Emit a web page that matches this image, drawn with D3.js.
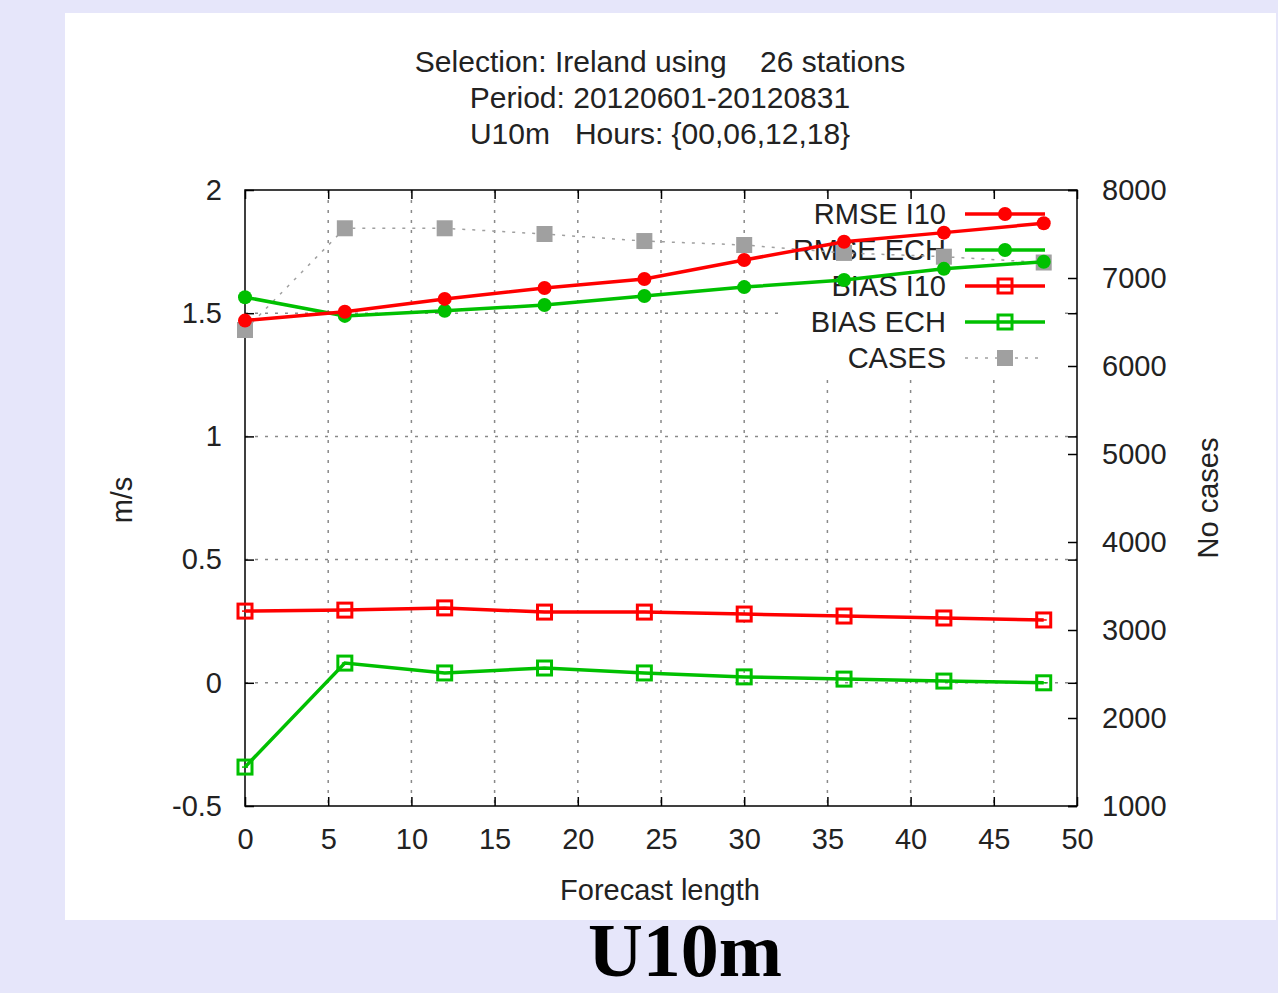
<!DOCTYPE html>
<html>
<head>
<meta charset="utf-8">
<script src="https://cdn.jsdelivr.net/npm/d3@7"></script>
<style>
  html, body { margin: 0; padding: 0; background: #e6e6fa; }
  svg text { font-family: "Liberation Sans", Arial, sans-serif; fill: #222; }
</style>
</head>
<body>
<div id="chart"></div>
<script>
// -------- Data --------
const leadTimes  = [0, 6, 12, 18, 24, 30, 36, 42, 48];
const rmseI10    = [1.47, 1.506, 1.558, 1.602, 1.639, 1.716, 1.79, 1.827, 1.865];
const rmseECH    = [1.565, 1.489, 1.51, 1.533, 1.57, 1.606, 1.635, 1.68, 1.709];
const biasI10    = [0.291, 0.295, 0.304, 0.287, 0.287, 0.279, 0.271, 0.263, 0.255];
const biasECH    = [-0.342, 0.08, 0.04, 0.06, 0.04, 0.024, 0.015, 0.007, 0.0];
const cases      = [6409, 7565, 7565, 7500, 7420, 7375, 7285, 7242, 7176];
const xTicks     = [0, 5, 10, 15, 20, 25, 30, 35, 40, 45, 50];
const yTicks     = [-0.5, 0, 0.5, 1, 1.5, 2];
const yTickLabels = ['-0.5', '0', '0.5', '1', '1.5', '2'];
const y2Ticks    = [1000, 2000, 3000, 4000, 5000, 6000, 7000, 8000];
const titleLines = ['Selection: Ireland using    26 stations', 'Period: 20120601-20120831', 'U10m   Hours: {00,06,12,18}'];

// -------- Dimensions --------
const W = 1278, H = 993;
const plot = { left: 245, right: 1077, top: 190, bottom: 806 };

const svg = d3.select('#chart').append('svg')
  .attr('width', W).attr('height', H)
  .style('display', 'block');

// panel
svg.append('rect').attr('x', 65).attr('y', 13).attr('width', 1211).attr('height', 907).attr('fill', '#fff');

// -------- Scales --------
const x  = d3.scaleLinear().domain([0, 50]).range([plot.left, plot.right]);
const y  = d3.scaleLinear().domain([-0.5, 2]).range([plot.bottom, plot.top]);
const y2 = d3.scaleLinear().domain([1000, 8000]).range([plot.bottom, plot.top]);

const fs = 29;

// -------- Title --------
svg.append('g').selectAll('text')
  .data(titleLines)
  .join('text')
    .attr('x', 660)
    .attr('y', (d, i) => 72 + i * 36)
    .attr('text-anchor', 'middle')
    .attr('font-size', 30)
    .style('white-space', 'pre')
    .attr('xml:space', 'preserve')
    .text(d => d);

// -------- Grid --------
const grid = svg.append('g')
  .attr('stroke', '#8a8a8a').attr('stroke-width', 1.5).attr('stroke-dasharray', '3,7').attr('fill', 'none');
grid.selectAll('line.gx')
  .data(xTicks.filter(t => t > 0 && t < 50))
  .join('line').attr('class', 'gx')
    .attr('x1', d => x(d)).attr('x2', d => x(d))
    .attr('y1', plot.top).attr('y2', plot.bottom);
grid.selectAll('line.gy')
  .data(yTicks.filter(t => t > -0.5 && t < 2))
  .join('line').attr('class', 'gy')
    .attr('x1', plot.left).attr('x2', plot.right)
    .attr('y1', d => y(d)).attr('y2', d => y(d));

// -------- Legend background --------
svg.append('rect').attr('x', 784).attr('y', 196).attr('width', 276).attr('height', 178).attr('fill', '#fff');

// -------- Axes --------
const tl = 9;
const axisG = svg.append('g');
axisG.append('rect')
  .attr('x', plot.left).attr('y', plot.top)
  .attr('width', plot.right - plot.left).attr('height', plot.bottom - plot.top)
  .attr('fill', 'none').attr('stroke', '#000').attr('stroke-width', 1.5);

const xAxis = d3.axisBottom(x).tickValues(xTicks).tickSize(-tl).tickPadding(tl + 13);
axisG.append('g').attr('transform', `translate(0,${plot.bottom})`).call(xAxis);
const xTop = d3.axisTop(x).tickValues(xTicks).tickSize(-tl).tickFormat('');
axisG.append('g').attr('transform', `translate(0,${plot.top})`).call(xTop);

const yAxis = d3.axisLeft(y).tickValues(yTicks).tickSize(-tl).tickPadding(tl + 14)
  .tickFormat((d, i) => yTickLabels[i]);
axisG.append('g').attr('transform', `translate(${plot.left},0)`).call(yAxis);
const yMirror = d3.axisRight(y).tickValues(yTicks).tickSize(-tl).tickFormat('');
axisG.append('g').attr('transform', `translate(${plot.right},0)`).call(yMirror);

const y2Axis = d3.axisRight(y2).tickValues(y2Ticks).tickSize(-tl).tickPadding(tl + 16).tickFormat(d3.format('d'));
axisG.append('g').attr('transform', `translate(${plot.right},0)`).call(y2Axis);

axisG.selectAll('.domain').remove();
axisG.selectAll('.tick line').attr('stroke', '#000').attr('stroke-width', 1.5);
axisG.selectAll('.tick text').attr('font-size', fs).attr('font-family', '"Liberation Sans", Arial, sans-serif').attr('fill', '#222');

// axis titles
svg.append('text').attr('x', 660).attr('y', 900).attr('text-anchor', 'middle').attr('font-size', fs).text('Forecast length');
svg.append('text').attr('transform', 'translate(132,500) rotate(-90)').attr('text-anchor', 'middle').attr('font-size', fs).text('m/s');
svg.append('text').attr('transform', 'translate(1218,498) rotate(-90)').attr('text-anchor', 'middle').attr('font-size', fs).text('No cases');

// -------- Series --------
const series = [
  { name: 'RMSE I10', values: rmseI10, color: '#ff0000', marker: 'dot',    scale: y },
  { name: 'RMSE ECH', values: rmseECH, color: '#00c000', marker: 'dot',    scale: y },
  { name: 'BIAS I10', values: biasI10, color: '#ff0000', marker: 'square', scale: y },
  { name: 'BIAS ECH', values: biasECH, color: '#00c000', marker: 'square', scale: y },
  { name: 'CASES',    values: cases,   color: '#a0a0a0', marker: 'fill',   scale: y2 }
];

function drawMarker(g, kind, color, cx, cy) {
  if (kind === 'dot') {
    g.append('circle').attr('cx', cx).attr('cy', cy).attr('r', 7).attr('fill', color);
  } else if (kind === 'square') {
    g.append('rect').attr('x', cx - 7).attr('y', cy - 7).attr('width', 14).attr('height', 14)
      .attr('fill', 'none').attr('stroke', color).attr('stroke-width', 3);
    g.append('line').attr('x1', cx - 3).attr('x2', cx + 3).attr('y1', cy).attr('y2', cy)
      .attr('stroke', color).attr('stroke-width', 1.5);
  } else {
    g.append('rect').attr('x', cx - 8).attr('y', cy - 8).attr('width', 16).attr('height', 16).attr('fill', color);
  }
}

// legend
const legend = svg.append('g');
series.forEach((s, i) => {
  const ly = 214 + i * 36;
  legend.append('text').attr('x', 946).attr('y', ly + 10).attr('text-anchor', 'end').attr('font-size', fs).text(s.name);
  legend.append('line').attr('x1', 965).attr('x2', 1045).attr('y1', ly).attr('y2', ly)
    .attr('stroke', s.color)
    .attr('stroke-width', s.marker === 'fill' ? 1.5 : 3.5)
    .attr('stroke-dasharray', s.marker === 'fill' ? '3,7' : null);
  drawMarker(legend, s.marker, s.color, 1005, ly);
});

// data lines (drawn last, over the legend as in the reference)
const dataG = svg.append('g');
[...series].reverse().forEach(s => {
  const line = d3.line().x((d, i) => x(leadTimes[i])).y(d => s.scale(d));
  dataG.append('path').datum(s.values)
    .attr('d', line)
    .attr('fill', 'none')
    .attr('stroke', s.color)
    .attr('stroke-width', s.marker === 'fill' ? 1.5 : 3.5)
    .attr('stroke-dasharray', s.marker === 'fill' ? '3,7' : null);
  s.values.forEach((v, i) => drawMarker(dataG, s.marker, s.color, x(leadTimes[i]), s.scale(v)));
});

// -------- Caption --------
svg.append('text').attr('x', 685).attr('y', 976).attr('text-anchor', 'middle')
  .attr('font-weight', 'bold').attr('font-size', 76).attr('fill', '#000')
  .style('font-family', '"Liberation Serif", "Times New Roman", serif')
  .style('fill', '#000')
  .text('U10m');
</script>
</body>
</html>
